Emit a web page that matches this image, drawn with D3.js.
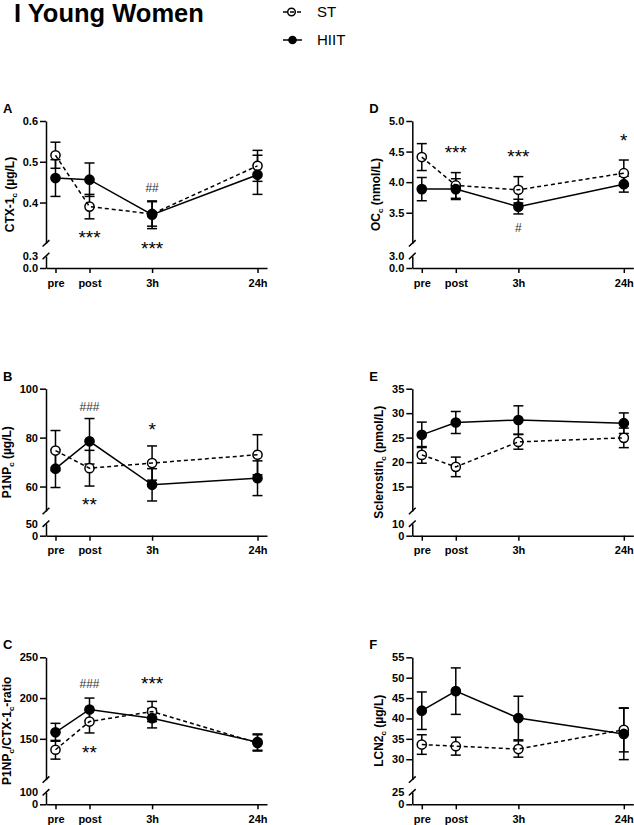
<!DOCTYPE html>
<html><head><meta charset="utf-8">
<script src="https://cdn.jsdelivr.net/npm/d3@7"></script>
<style>
body{margin:0;background:#fff;}
svg{display:block;font-family:"Liberation Sans",Arial,Helvetica,sans-serif;}
</style>
</head><body>
<svg id="chart" width="634" height="825"></svg>
<script>
// ---------- data ----------
const timepoints = ["pre", "post", "3h", "24h"];
const timePos = [0, 1, 2.84, 5.94];
const seriesNames = ["ST", "HIIT"];

// A: CTX-1c
const ctxST = [0.516, 0.390, 0.372, 0.490];
const ctxSTerr = [0.032, 0.030, 0.030, 0.038];
const ctxHIIT = [0.460, 0.456, 0.370, 0.468];
const ctxHIITerr = [0.045, 0.041, 0.034, 0.048];
const ctxTicks = [0.4, 0.5, 0.6];
const ctxLowTicks = [0, 0.3];
const ctxDomain = [0.3, 0.6];
const ctxNotes = [
  {t: 1, text: "***", v: 0.325},
  {t: 2, text: "***", v: 0.298},
  {t: 2, text: "##", v: 0.436}
];

// D: OCc
const ocST = [4.41, 3.946, 3.875, 4.147];
const ocSTerr = [0.22, 0.21, 0.215, 0.215];
const ocHIIT = [3.886, 3.886, 3.60, 3.967];
const ocHIITerr = [0.19, 0.17, 0.12, 0.13];
const ocTicks = [3.5, 4.0, 4.5, 5.0];
const ocLowTicks = [0, 3.0];
const ocDomain = [3.0, 5.0];
const ocNotes = [
  {t: 1, text: "***", v: 4.555},
  {t: 2, text: "***", v: 4.49},
  {t: 3, text: "*", v: 4.744},
  {t: 2, text: "#", v: 3.256}
];

// B: P1NPc
const p1npST = [74.7, 67.5, 69.6, 73.0];
const p1npSTerr = [8.2, 7.3, 7.0, 8.2];
const p1npHIIT = [67.3, 78.5, 60.7, 63.4];
const p1npHIITerr = [7.7, 9.3, 6.6, 7.1];
const p1npTicks = [60, 80, 100];
const p1npLowTicks = [0, 50];
const p1npDomain = [50, 100];
const p1npNotes = [
  {t: 1, text: "###", v: 92.65},
  {t: 2, text: "*", v: 85.17},
  {t: 1, text: "**", v: 54.25}
];

// E: Sclerostin
const sclST = [21.47, 19.02, 24.13, 24.95];
const sclSTerr = [1.7, 2.0, 1.5, 2.0];
const sclHIIT = [25.57, 28.09, 28.6, 27.95];
const sclHIITerr = [2.6, 2.25, 2.9, 2.1];
const sclTicks = [15, 20, 25, 30, 35];
const sclLowTicks = [0, 10];
const sclDomain = [10, 35];
const sclNotes = [];

// C: P1NPc/CTX-1c ratio
const ratioST = [136.6, 171.2, 183.5, 145.0];
const ratioSTerr = [11.5, 14.0, 12.4, 10.0];
const ratioHIIT = [158.0, 186.0, 175.3, 146.0];
const ratioHIITerr = [11.0, 14.0, 11.9, 10.0];
const ratioTicks = [150, 200, 250];
const ratioLowTicks = [0, 100];
const ratioDomain = [100, 250];
const ratioNotes = [
  {t: 1, text: "###", v: 217.9},
  {t: 2, text: "***", v: 223.2},
  {t: 1, text: "**", v: 138.9}
];

// F: LCN2c
const lcnST = [33.6, 33.2, 32.5, 37.2];
const lcnSTerr = [2.4, 2.2, 2.0, 5.4];
const lcnHIIT = [41.9, 46.7, 40.1, 36.2];
const lcnHIITerr = [4.6, 5.7, 5.35, 6.3];
const lcnTicks = [30, 35, 40, 45, 50, 55];
const lcnLowTicks = [0, 25];
const lcnDomain = [25, 55];
const lcnNotes = [];

// ---------- layout ----------
const svg = d3.select("#chart");
const colX = [46, 412.3];
const rowTop = [121, 388.7, 657.3];
const upperH = 122.3, lowTopOff = 135, axisOff = 147;
const xPadUnits = 0.279, xSpan = 221;

const panels = [
  {L: "A", col: 0, row: 0, title: [["CTX-1", 0], ["c", 1], [" (\u00b5g/L)", 0]], st: ctxST, stE: ctxSTerr, hi: ctxHIIT, hiE: ctxHIITerr, ticks: ctxTicks, low: ctxLowTicks, dom: ctxDomain, fmt: d3.format(".1f"), notes: ctxNotes},
  {L: "D", col: 1, row: 0, title: [["OC", 0], ["c", 1], [" (nmol/L)", 0]], st: ocST, stE: ocSTerr, hi: ocHIIT, hiE: ocHIITerr, ticks: ocTicks, low: ocLowTicks, dom: ocDomain, fmt: d3.format(".1f"), notes: ocNotes},
  {L: "B", col: 0, row: 1, title: [["P1NP", 0], ["c", 1], [" (\u00b5g/L)", 0]], st: p1npST, stE: p1npSTerr, hi: p1npHIIT, hiE: p1npHIITerr, ticks: p1npTicks, low: p1npLowTicks, dom: p1npDomain, fmt: d3.format("d"), notes: p1npNotes},
  {L: "E", col: 1, row: 1, title: [["Sclerostin", 0], ["c", 1], [" (pmol/L)", 0]], st: sclST, stE: sclSTerr, hi: sclHIIT, hiE: sclHIITerr, ticks: sclTicks, low: sclLowTicks, dom: sclDomain, fmt: d3.format("d"), notes: sclNotes},
  {L: "C", col: 0, row: 2, title: [["P1NP", 0], ["c", 1], ["/CTX-1", 0], ["c", 1], ["-ratio", 0]], st: ratioST, stE: ratioSTerr, hi: ratioHIIT, hiE: ratioHIITerr, ticks: ratioTicks, low: ratioLowTicks, dom: ratioDomain, fmt: d3.format("d"), notes: ratioNotes},
  {L: "F", col: 1, row: 2, title: [["LCN2", 0], ["c", 1], [" (\u00b5g/L)", 0]], st: lcnST, stE: lcnSTerr, hi: lcnHIIT, hiE: lcnHIITerr, ticks: lcnTicks, low: lcnLowTicks, dom: lcnDomain, fmt: d3.format("d"), notes: lcnNotes}
];

function styleAxis(g) {
  g.selectAll("path.domain").attr("stroke", "#000").attr("stroke-width", 1.5);
  g.selectAll(".tick line").attr("stroke", "#000").attr("stroke-width", 1.5);
  g.selectAll(".tick text").attr("fill", "#000").attr("font-size", 11).attr("font-weight", "bold")
    .attr("font-family", "Liberation Sans, Arial, sans-serif");
}

panels.forEach(p => {
  const ax = colX[p.col], top = rowTop[p.row];
  const g = svg.append("g");
  const x = d3.scaleLinear()
    .domain([timePos[0] - xPadUnits, timePos[3] + xPadUnits])
    .range([ax, ax + xSpan]);
  const yU = d3.scaleLinear().domain(p.dom).range([top + upperH, top]);
  const yL = d3.scaleLinear().domain([0, p.dom[0]]).range([top + axisOff, top + lowTopOff]);

  // x axis
  const gx = g.append("g").attr("transform", `translate(0,${top + axisOff})`)
    .call(d3.axisBottom(x).tickValues(timePos).tickFormat((d, i) => timepoints[i])
      .tickSize(5).tickSizeOuter(0).tickPadding(6));
  styleAxis(gx);

  // upper y axis
  const gyU = g.append("g").attr("transform", `translate(${ax},0)`)
    .call(d3.axisLeft(yU).tickValues(p.ticks).tickFormat(p.fmt).tickSize(6).tickSizeOuter(0).tickPadding(2));
  styleAxis(gyU);
  // lower y axis
  const gyL = g.append("g").attr("transform", `translate(${ax},0)`)
    .call(d3.axisLeft(yL).tickValues(p.low).tickFormat(p.fmt).tickSize(6).tickSizeOuter(0).tickPadding(2));
  styleAxis(gyL);
  gyL.selectAll(".tick").filter(d => d !== 0).select("line").remove();

  // break slashes
  [yU(p.dom[0]), yL(p.dom[0])].forEach(yb => {
    g.append("line").attr("x1", ax - 3.4).attr("y1", yb + 3.2).attr("x2", ax + 3.4).attr("y2", yb - 3.2)
      .attr("stroke", "#000").attr("stroke-width", 1.5);
  });

  // y title
  let maxW = 0;
  g.selectAll(".tick text").each(function() { if (this.parentNode.parentNode !== gx.node()) maxW = Math.max(maxW, this.getComputedTextLength()); });
  const tx = ax - 8 - maxW - 13, ty = top + axisOff / 2;
  const title = g.append("text").attr("transform", `translate(${tx},${ty}) rotate(-90)`)
    .attr("text-anchor", "middle").attr("dominant-baseline", "central")
    .attr("font-size", 12).attr("font-weight", "bold");
  p.title.forEach(([s, sub]) => {
    const ts = title.append("tspan").text(s);
    if (sub) ts.attr("font-size", 8).attr("baseline-shift", "sub");
  });

  // panel letter
  g.append("text").attr("x", ax - 43).attr("y", top - 8).text(p.L)
    .attr("font-size", 13).attr("font-weight", "bold");

  // error bars
  const drawErr = (vals, errs) => {
    vals.forEach((v, i) => {
      const cx = x(timePos[i]);
      const y1 = yU(v - errs[i]), y2 = yU(v + errs[i]);
      g.append("line").attr("x1", cx).attr("x2", cx).attr("y1", y1).attr("y2", y2).attr("stroke", "#000").attr("stroke-width", 1.5);
      [y1, y2].forEach(yy => g.append("line").attr("x1", cx - 5).attr("x2", cx + 5).attr("y1", yy).attr("y2", yy).attr("stroke", "#000").attr("stroke-width", 1.5));
    });
  };
  drawErr(p.st, p.stE);
  drawErr(p.hi, p.hiE);

  const line = d3.line().x((d, i) => x(timePos[i])).y(d => yU(d));
  // ST
  g.selectAll(null).data(p.st).enter().append("circle")
    .attr("cx", (d, i) => x(timePos[i])).attr("cy", d => yU(d)).attr("r", 4.6)
    .attr("fill", "#fff").attr("stroke", "#000").attr("stroke-width", 1.5);
  g.append("path").datum(p.st).attr("d", line).attr("fill", "none").attr("stroke", "#000")
    .attr("stroke-width", 1.5).attr("stroke-dasharray", "4,3");
  // HIIT
  g.append("path").datum(p.hi).attr("d", line).attr("fill", "none").attr("stroke", "#000").attr("stroke-width", 1.5);
  g.selectAll(null).data(p.hi).enter().append("circle")
    .attr("cx", (d, i) => x(timePos[i])).attr("cy", d => yU(d)).attr("r", 4.6)
    .attr("fill", "#000").attr("stroke", "#000").attr("stroke-width", 1.5);

  // annotations
  p.notes.forEach(n => {
    const isStar = n.text[0] === "*";
    const fs = isStar ? 19 : 12;
    const off = isStar ? 0.57 * fs : 0.35 * fs;
    g.append("text").attr("x", x(timePos[n.t])).attr("y", yU(n.v) + off)
      .attr("text-anchor", "middle").attr("font-size", fs)
      .attr("fill", isStar ? "#000" : "#333").text(n.text);
  });
});

// title
svg.append("text").attr("x", 14).attr("y", 21.5).text("I Young Women")
  .attr("font-size", 25.5).attr("font-weight", "bold");

// legend
const legY = [12, 40];
seriesNames.forEach((s, i) => {
  const lg = svg.append("g");
  lg.append("line").attr("x1", 283).attr("x2", 302).attr("y1", legY[i]).attr("y2", legY[i])
    .attr("stroke", "#000").attr("stroke-width", 1.5).attr("stroke-dasharray", i === 0 ? "4,3" : null);
  if (i === 0) {
    lg.append("circle").attr("cx", 291.5).attr("cy", legY[i]).attr("r", 3.8).attr("fill", "none").attr("stroke", "#000").attr("stroke-width", 1.5);
  } else {
    lg.append("circle").attr("cx", 292.5).attr("cy", legY[i]).attr("r", 4.3).attr("fill", "#000");
  }
  lg.append("text").attr("x", 317).attr("y", legY[i] + 5.3).text(s).attr("font-size", 15);
});
</script>
</body></html>
